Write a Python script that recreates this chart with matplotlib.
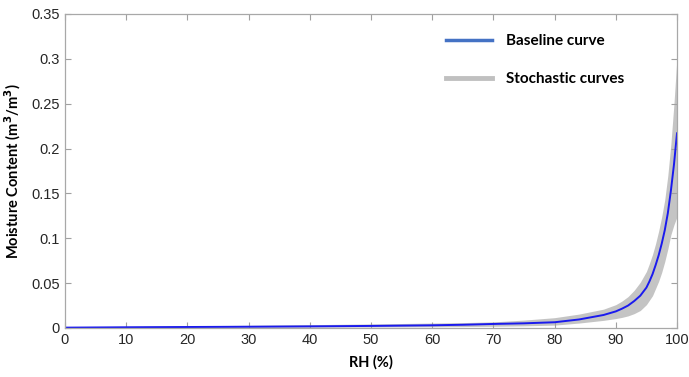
import matplotlib
matplotlib.use("Agg")
import matplotlib.pyplot as plt
from matplotlib.lines import Line2D

# relative humidity (%) and moisture content (m3/m3)
rh = [0, 10, 20, 30, 40, 50, 60, 65, 70, 75, 80, 84, 88, 90, 91, 92, 93, 94, 95, 95.5,
      96, 96.5, 97, 97.5, 98, 98.5, 99, 99.5, 100]
baseline = [0.0004, 0.0008, 0.0011, 0.0014, 0.0018, 0.0023, 0.0030, 0.0036, 0.0045, 0.0052,
            0.0064, 0.0095, 0.0145, 0.0185, 0.0215, 0.0250, 0.0300, 0.0360, 0.0450, 0.0520,
            0.0600, 0.0700, 0.0810, 0.0940, 0.1090, 0.1280, 0.1530, 0.1820, 0.2170]
upper = [0.0012, 0.0018, 0.0024, 0.0030, 0.0037, 0.0045, 0.0055, 0.0060, 0.0068, 0.0088,
         0.0115, 0.0155, 0.0210, 0.0260, 0.0300, 0.0350, 0.0420, 0.0510, 0.0630, 0.0720,
         0.0820, 0.0940, 0.1080, 0.1240, 0.1430, 0.1700, 0.2050, 0.2500, 0.3020]
lower = [0.0001, 0.0003, 0.0005, 0.0007, 0.0009, 0.0011, 0.0014, 0.0016, 0.0019, 0.0024,
         0.0032, 0.0055, 0.0085, 0.0105, 0.0118, 0.0135, 0.0160, 0.0195, 0.0260, 0.0310,
         0.0360, 0.0440, 0.0520, 0.0620, 0.0740, 0.0880, 0.1040, 0.1150, 0.1240]

fig = plt.figure(figsize=(6.89, 3.77), dpi=100)
ax = fig.add_axes([0.0943, 0.130, 0.8883, 0.833])

ax.fill_between(rh, lower, upper, color='#c4c4c4', lw=0)
ax.plot(rh, baseline, color='#1a1aee', lw=1.4)

ax.set_xlim(0, 100)
ax.set_ylim(0, 0.35)
ax.set_xticks(range(0, 101, 10))
ax.set_yticks([0, 0.05, 0.1, 0.15, 0.2, 0.25, 0.3, 0.35])
ax.set_yticklabels(['0', '0.05', '0.1', '0.15', '0.2', '0.25', '0.3', '0.35'])
ax.tick_params(direction='in', top=True, right=True, length=4, color='#a0a0a0',
               labelcolor='#262626', labelsize=10.5)
for lab in ax.get_xticklabels() + ax.get_yticklabels():
    lab.set_family('Liberation Sans')
for s in ax.spines.values():
    s.set_color('#a8a8a8')
    s.set_linewidth(0.9)

ax.set_xlabel('RH (%)', fontfamily='Lato', fontweight='bold', fontsize=10.5, labelpad=6)
ax.set_ylabel('Moisture Content (m$^\\mathbf{3}$/m$^\\mathbf{3}$)', fontfamily='Lato',
              fontweight='bold', fontsize=10.5, labelpad=6)

handles = [Line2D([], [], color='#4472c4', lw=2.5),
           Line2D([], [], color='#c0c0c0', lw=3.5)]
ax.legend(handles, ['Baseline curve', 'Stochastic curves'], loc='upper left',
          bbox_to_anchor=(0.6, 0.98), frameon=False, labelspacing=1.6, handlelength=3,
          handletextpad=0.9, prop={'family': 'Lato', 'weight': 'bold', 'size': 11})

fig.savefig('out.png', dpi=100)
